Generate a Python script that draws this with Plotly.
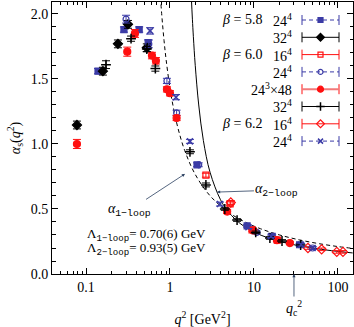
import plotly.graph_objects as go

# --- data ---------------------------------------------------------------
# beta = 5.8, 24^4  (blue filled squares)
b58_24_q2 = [0.139, 0.283, 0.43, 0.55, 2.1, 8.3, 16.5, 35.0]
b58_24_a = [1.56, 1.88, 1.88, 1.78, 0.84, 0.37, 0.29, 0.225]
b58_24_e = [0.02, 0.02, 0.02, 0.02, 0.015, 0.01, 0.01, 0.01]

# beta = 5.8, 32^4  (black filled diamonds)
b58_32_q2 = [0.078, 0.159, 0.24, 0.316, 0.53]
b58_32_a = [1.146, 1.56, 1.77, 1.92, 1.74]
b58_32_e = [0.03, 0.03, 0.03, 0.03, 0.03]

# beta = 6.0, 16^4  (red open squares)
b60_16_q2 = [2.68, 5.2, 9.5, 19.0]
b60_16_a = [0.76, 0.54, 0.34, 0.26]
b60_16_e = [0.015, 0.015, 0.01, 0.01]

# beta = 6.0, 24^4  (blue open circles)
b60_24_q2 = [0.30, 0.56, 0.92, 1.2, 2.2, 10.8, 50.0]
b60_24_a = [1.96, 1.77, 1.485, 1.24, 0.84, 0.32, 0.20]
b60_24_e = [0.03, 0.03, 0.02, 0.02, 0.015, 0.01, 0.01]

# beta = 6.0, 24^3x48  (red filled circles)
b60_48_q2 = [0.078, 0.31, 0.383, 0.61, 0.68, 0.92, 1.0, 1.2, 4.8, 9.8, 18.8, 26.8]
b60_48_a = [1.0, 1.71, 1.85, 1.68, 1.64, 1.42, 1.39, 1.20, 0.48, 0.335, 0.26, 0.238]
b60_48_e = [0.035, 0.035, 0.03, 0.025, 0.025, 0.02, 0.02, 0.02, 0.015, 0.01, 0.01, 0.01]

# beta = 6.0, 32^4  (black plus)
b60_32_q2 = [0.173, 0.344, 0.53, 0.67, 1.73, 2.68, 4.5, 6.3, 10.5, 15.5, 21.6, 36.0]
b60_32_a = [1.61, 1.81, 1.73, 1.58, 0.94, 0.685, 0.50, 0.415, 0.32, 0.277, 0.254, 0.223]
b60_32_e = [0.03, 0.02, 0.02, 0.02, 0.015, 0.015, 0.01, 0.01, 0.01, 0.01, 0.01, 0.01]

# beta = 6.2, 16^4  (red open diamonds)
b62_16_q2 = [5.3, 44.0, 64.0, 97.0, 115.0]
b62_16_a = [0.55, 0.20, 0.19, 0.17, 0.17]
b62_16_e = [0.015, 0.01, 0.01, 0.01, 0.01]

# beta = 6.2, 24^4  (blue crosses)
b62_24_q2 = [0.58, 1.18, 1.73, 3.94, 8.6, 16.0, 36.5, 50.0]
b62_24_a = [1.87, 1.36, 1.02, 0.538, 0.36, 0.29, 0.225, 0.20]
b62_24_e = [0.025, 0.02, 0.015, 0.015, 0.01, 0.01, 0.01, 0.01]

# perturbative curves
one_loop_q2 = [0.75, 0.8, 0.85, 0.9, 1.0, 1.1, 1.25, 1.5, 2.0, 3.0, 5.0, 8.0, 12.0, 20.0, 35.0, 60.0, 100.0, 150.0]
one_loop_a = [2.235, 1.986, 1.796, 1.648, 1.430, 1.278, 1.118, 0.949, 0.766, 0.602, 0.474, 0.397, 0.348, 0.301, 0.262, 0.233, 0.211, 0.197]
two_loop_q2 = [1.75, 1.8, 1.85, 1.9, 2.0, 2.2, 2.5, 3.0, 4.0, 5.0, 7.0, 10.0, 15.0, 25.0, 40.0, 70.0, 100.0, 150.0]
two_loop_a = [2.300, 2.117, 1.960, 1.825, 1.605, 1.300, 1.026, 0.783, 0.571, 0.475, 0.384, 0.323, 0.276, 0.236, 0.210, 0.186, 0.174, 0.162]

BLUE = "#3b3ba6"
RED = "#ff1010"
PINK = "#f27a7a"
BLACK = "black"
FONT = "Liberation Serif"
MONO = "Liberation Mono"

series = [
    # beta label, volume, q2, alpha, err, symbol, size, colour, dash, legend line colour, width
    ("<i>β</i> = 5.8", "24<sup>4</sup>", b58_24_q2, b58_24_a, b58_24_e, "square", 6, BLUE, "4px,3px", BLUE, 1),
    ("", "32<sup>4</sup>", b58_32_q2, b58_32_a, b58_32_e, "diamond", 7, BLACK, "solid", BLACK, 1),
    ("<i>β</i> = 6.0", "16<sup>4</sup>", b60_16_q2, b60_16_a, b60_16_e, "square-open", 6, RED, "solid", RED, 1),
    ("", "24<sup>4</sup>", b60_24_q2, b60_24_a, b60_24_e, "circle-open", 6, BLUE, "4px,3px", BLUE, 1),
    ("", "24<sup>3</sup>×48", b60_48_q2, b60_48_a, b60_48_e, "circle", 7, RED, "solid", PINK, 2),
    ("", "32<sup>4</sup>", b60_32_q2, b60_32_a, b60_32_e, "cross-thin", 7, BLACK, "solid", BLACK, 1),
    ("<i>β</i> = 6.2", "16<sup>4</sup>", b62_16_q2, b62_16_a, b62_16_e, "diamond-open", 7, RED, "solid", RED, 1),
    ("", "24<sup>4</sup>", b62_24_q2, b62_24_a, b62_24_e, "x-thin", 6, BLUE, "4px,3px", BLUE, 1),
]

W, H = 354, 327
L, R, T, B = 52, 1, 2, 53
pw, ph = W - L - R, H - T - B


def fx(px):
    return (px - L) / pw


def fy(py):
    return (H - B - py) / ph


fig = go.Figure()

fig.add_trace(go.Scatter(x=one_loop_q2, y=one_loop_a, mode="lines", line=dict(color=BLACK, width=1, dash="4px,3px", shape="spline"),
                         hoverinfo="skip", showlegend=False))
fig.add_trace(go.Scatter(x=two_loop_q2, y=two_loop_a, mode="lines", line=dict(color=BLACK, width=1, shape="spline"),
                         hoverinfo="skip", showlegend=False))

for i, (beta, vol, q2, a, e, sym, size, col, dash, lcol, lw) in enumerate(series):
    lw_m = 1.5 if sym in ("cross-thin", "x-thin") else 1.2
    fig.add_trace(go.Scatter(
        x=q2, y=a, mode="markers",
        marker=dict(symbol=sym, size=size, color=col, line=dict(color=col, width=lw_m)),
        error_y=dict(type="data", array=e, color=col, thickness=1, width=4),
        showlegend=False,
    ))

    # hand-made legend row on an overlay axis
    ry = fy(20 + i * 17.3)
    x0, x1 = fx(302), fx(339)
    fig.add_trace(go.Scatter(
        x=[x0, x1], y=[ry, ry], mode="lines", line=dict(color=lcol, width=lw, dash=dash),
        error_y=dict(type="constant", value=5 / ph, color=lcol if lw == 1 else RED, thickness=1, width=0),
        xaxis="x2", yaxis="y2", showlegend=False, hoverinfo="skip",
    ))
    fig.add_trace(go.Scatter(
        x=[(x0 + x1) / 2], y=[ry], mode="markers",
        marker=dict(symbol=sym, size=size - 1, color=col, line=dict(color=col, width=lw_m)),
        xaxis="x2", yaxis="y2", showlegend=False, hoverinfo="skip",
    ))
    if beta:
        fig.add_annotation(x=fx(264), y=ry, xref="paper", yref="paper", text=beta, showarrow=False,
                           xanchor="right", yanchor="middle", font=dict(size=14))
    fig.add_annotation(x=fx(294), y=ry, xref="paper", yref="paper", text=vol, showarrow=False,
                       xanchor="right", yanchor="middle", font=dict(size=14))

sub = lambda s: f"<sub><span style='font-family:{MONO}'>{s}</span></sub>"

fig.add_annotation(x=0.179, y=0.77, xref="x", yref="y", text="<i>α</i>" + sub("1−loop"),
                   showarrow=True, arrowhead=2, arrowsize=0.8, arrowwidth=0.8, ax=-55, ay=36, font=dict(size=14))
fig.add_annotation(x=0.56, y=0.63, xref="x", yref="y", text="<i>α</i>" + sub("2−loop"),
                   showarrow=True, arrowhead=2, arrowsize=0.8, arrowwidth=0.8, ax=60, ay=-2, font=dict(size=14))
fig.add_annotation(x=1.477, y=0, xref="x", yref="y", text="<i>q</i><sub>c</sub><sup>2</sup>",
                   showarrow=True, arrowhead=2, arrowsize=0.8, arrowwidth=0.8, ax=0, ay=34, font=dict(size=14))
fig.add_annotation(x=fx(85), y=fy(235), xref="paper", yref="paper", xanchor="left", yanchor="middle", showarrow=False,
                   text="Λ" + sub("1−loop") + "= 0.70(6) GeV", font=dict(size=13))
fig.add_annotation(x=fx(85), y=fy(249), xref="paper", yref="paper", xanchor="left", yanchor="middle", showarrow=False,
                   text="Λ" + sub("2−loop") + "= 0.93(5) GeV", font=dict(size=13))

minor_x = [m * 10 ** k for k in (-2, -1, 0, 1, 2) for m in range(2, 10)]

fig.update_layout(
    width=W, height=H,
    margin=dict(l=L, r=R, t=T, b=B),
    paper_bgcolor="white", plot_bgcolor="white",
    font=dict(family=FONT, size=14, color="black"),
    xaxis=dict(
        type="log", range=[-1.405, 2.18],
        tickvals=[0.1, 1, 10, 100], ticktext=["0.1", "1", "10", "100"],
        ticks="inside", ticklen=6, tickcolor="black",
        minor=dict(tickvals=minor_x, ticks="inside", ticklen=3, tickcolor="black"),
        showline=True, linecolor="black", linewidth=1, mirror="ticks",
        showgrid=False, zeroline=False,
        title=dict(text="<i>q</i><sup>2</sup> [GeV<sup>2</sup>]", standoff=20, font=dict(size=14)),
    ),
    yaxis=dict(
        range=[0, 2.092], tickvals=[0, 0.5, 1.0, 1.5, 2.0], ticktext=["0.0", "0.5", "1.0", "1.5", "2.0"],
        ticks="inside", ticklen=6, tickcolor="black",
        minor=dict(dtick=0.1, ticks="inside", ticklen=3.5, tickcolor="black"),
        showline=True, linecolor="black", linewidth=1, mirror="ticks",
        showgrid=False, zeroline=False,
        title=dict(text="<i>α</i><sub>s</sub>(<i>q</i><sup>2</sup>)", standoff=6, font=dict(size=14)),
    ),
    xaxis2=dict(overlaying="x", range=[0, 1], visible=False),
    yaxis2=dict(overlaying="y", range=[0, 1], visible=False),
)

fig.write_html("out.html", config={"displayModeBar": False},
               post_script="document.body.style.margin = '0';")
